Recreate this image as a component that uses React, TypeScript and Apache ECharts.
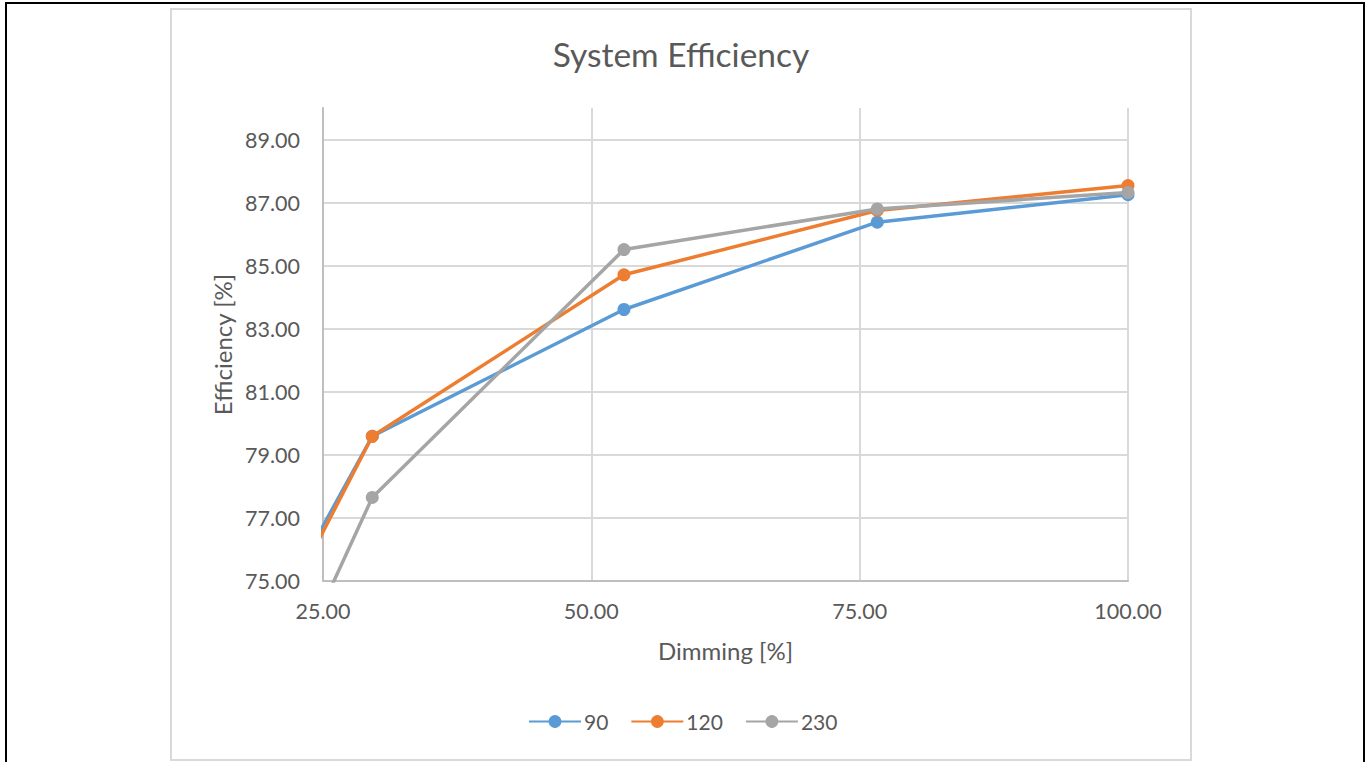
import React, { useEffect, useRef } from "react";
import * as echarts from "echarts";

const dimming = [6.2, 29.59, 53.04, 76.64, 100.0];
const seriesNames = ["90", "120", "230"];
const eff90 = [65.1, 79.59, 83.61, 86.38, 87.25];
const eff120 = [64.15, 79.59, 84.71, 86.75, 87.54];
const eff230 = [60.3, 77.65, 85.51, 86.8, 87.32];
const colors = ["#5b9bd5", "#ed7d31", "#a5a5a5"];

const FONT = "Lato";
const TEXT = "#595959";

export default function App() {
  const ref = useRef<HTMLDivElement>(null);
  useEffect(() => {
    if (!ref.current) return;
    const chart = echarts.init(ref.current, null, { renderer: "svg" });
    const allVals = [eff90, eff120, eff230];
    chart.setOption({
      animation: false,
      backgroundColor: "#ffffff",
      textStyle: { fontFamily: FONT, color: TEXT },
      title: {
        text: "System Efficiency",
        left: "center",
        top: 22,
        textStyle: { fontFamily: FONT, fontSize: 33.5, fontWeight: "normal", color: TEXT },
      },
      legend: {
        left: 351,
        top: 696,
        itemWidth: 52,
        itemHeight: 16,
        itemGap: 22,
        textStyle: { fontFamily: FONT, fontSize: 21, color: TEXT, padding: [0, 0, 0, -2] },
        data: seriesNames,
      },
      grid: { left: 151, top: 98, right: 62, bottom: 178, containLabel: false },
      xAxis: {
        type: "value",
        min: 25,
        max: 100,
        interval: 25,
        name: "Dimming [%]",
        nameLocation: "middle",
        nameGap: 57,
        nameTextStyle: { fontFamily: FONT, fontSize: 24, color: TEXT },
        axisLine: { show: true, lineStyle: { color: "#bfbfbf", width: 2 } },
        axisTick: { show: false },
        axisLabel: {
          fontFamily: FONT,
          fontSize: 21.5,
          color: TEXT,
          margin: 19,
          formatter: (v: number) => v.toFixed(2),
        },
        splitLine: { show: true, showMinLine: false, lineStyle: { color: "#d9d9d9", width: 2 } },
      },
      yAxis: {
        type: "value",
        min: 75,
        max: 90,
        interval: 1,
        name: "Efficiency [%]",
        nameLocation: "middle",
        nameGap: 89,
        nameRotate: 90,
        nameTextStyle: { fontFamily: FONT, fontSize: 24, color: TEXT },
        axisLine: { show: true, lineStyle: { color: "#bfbfbf", width: 2 } },
        axisTick: { show: false },
        axisLabel: {
          fontFamily: FONT,
          fontSize: 21.5,
          color: TEXT,
          margin: 23,
          formatter: (v: number) => ((Math.round(v) - 75) % 2 === 0 && v < 90 ? v.toFixed(2) : ""),
        },
        splitLine: {
          show: true,
          lineStyle: { color: ["#d9d9d9", "rgba(0,0,0,0)"], width: 2 },
        },
      },
      series: seriesNames.map((name, i) => ({
        name,
        type: "line",
        data: dimming.map((x, j) => [x, allVals[i][j]]),
        symbol: "circle",
        symbolSize: 13,
        clip: true,
        lineStyle: { color: colors[i], width: 3.5 },
        itemStyle: { color: colors[i] },
        emphasis: { disabled: true },
        z: 2 + i,
      })),
    });
    return () => chart.dispose();
  }, []);

  return (
    <div>
      <div
        style={{
          position: "fixed",
          left: 5,
          top: 2,
          width: 1360,
          height: 800,
          border: "2px solid #000",
          boxSizing: "border-box",
          background: "#fff",
        }}
      />
      <div
        style={{
          position: "fixed",
          left: 170,
          top: 8,
          width: 1022,
          height: 753,
          border: "2px solid #d9d9d9",
          boxSizing: "border-box",
          background: "#fff",
        }}
      >
        <div ref={ref} style={{ width: 1018, height: 749 }} />
      </div>
    </div>
  );
}
